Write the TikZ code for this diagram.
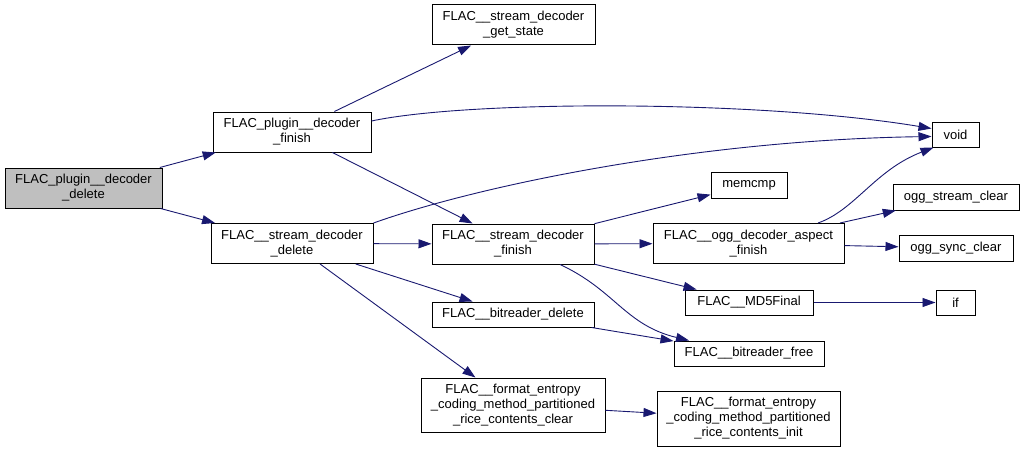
\documentclass[tikz,border=0pt]{standalone}
\usepackage{fontspec}
\setmainfont{Liberation Sans}
\usetikzlibrary{arrows.meta}
\definecolor{edgeblue}{RGB}{25,25,112}
\definecolor{hl}{RGB}{191,191,191}
\begin{document}
\begin{tikzpicture}[x=1pt,y=-1pt,
  fn/.style={draw=black, line width=1pt, fill=white, rectangle, inner sep=0pt, align=center, font=\fontsize{13}{15}\selectfont},
  ed/.style={draw=edgeblue, line width=0.9pt, -{Triangle[length=13pt,width=9pt]}, fill=none}]
\useasboundingbox (0,0) rectangle (1024,452);
\node[fn, fill=hl, minimum width=157pt, minimum height=40pt] (del) at (83.5,188) {FLAC\_plugin\_\_decoder\\\_delete};
\node[fn, minimum width=158pt, minimum height=40pt] (pf) at (292,132) {FLAC\_plugin\_\_decoder\\\_finish};
\node[fn, minimum width=162pt, minimum height=40pt] (sdd) at (292,243.5) {FLAC\_\_stream\_decoder\\\_delete};
\node[fn, minimum width=163pt, minimum height=40pt] (gs) at (513.5,25) {FLAC\_\_stream\_decoder\\\_get\_state};
\node[fn, minimum width=162pt, minimum height=40pt] (sdf) at (513,244) {FLAC\_\_stream\_decoder\\\_finish};
\node[fn, minimum width=191pt, minimum height=40pt] (ogg) at (748.5,243.5) {FLAC\_\_ogg\_decoder\_aspect\\\_finish};
\node[fn, minimum width=128pt, minimum height=25pt] (md5) at (749,302.5) {FLAC\_\_MD5Final};
\node[fn, minimum width=162pt, minimum height=25pt] (brd) at (513,314.5) {FLAC\_\_bitreader\_delete};
\node[fn, minimum width=150pt, minimum height=25pt] (brf) at (749,353.5) {FLAC\_\_bitreader\_free};
\node[fn, minimum width=184pt, minimum height=54pt] (fc) at (513,405) {FLAC\_\_format\_entropy\\\_coding\_method\_partitioned\\\_rice\_contents\_clear};
\node[fn, minimum width=183pt, minimum height=55pt] (fi) at (748.5,418.5) {FLAC\_\_format\_entropy\\\_coding\_method\_partitioned\\\_rice\_contents\_init};
\node[fn, minimum width=47pt, minimum height=25pt] (void) at (955.5,134.5) {void};
\node[fn, minimum width=76pt, minimum height=26pt] (mem) at (749,185) {memcmp};
\node[fn, minimum width=126pt, minimum height=26pt] (osc) at (956,197) {ogg\_stream\_clear};
\node[fn, minimum width=114pt, minimum height=26pt] (osy) at (956,248) {ogg\_sync\_clear};
\node[fn, minimum width=39pt, minimum height=25pt] (if) at (955.5,302.5) {if};

\draw[ed] (del) -- (pf);
\draw[ed] (del) -- (sdd);
\draw[ed] (pf) -- (gs);
\draw[ed] ([yshift=11pt]pf.east) .. controls (470,100) and (760,100) .. ([yshift=6pt]void.west);
\draw[ed] (pf) -- (sdf);
\draw[ed] (sdd.north east) .. controls (480,185) and (700,140) .. ([yshift=-2pt]void.west);
\draw[ed] (sdd) -- (sdf);
\draw[ed] (sdd) -- (brd);
\draw[ed] (sdd) -- (fc);
\draw[ed] (sdf) -- (mem);
\draw[ed] (sdf) -- (ogg);
\draw[ed] (sdf) -- (md5);
\draw[ed] ([xshift=47pt]sdf.south) .. controls (615,290) and (625,325) .. ([xshift=-60pt]brf.north);
\draw[ed] ([xshift=69.5pt]ogg.north) .. controls (855,210) and (875,170) .. ([xshift=2pt]void.south west);
\draw[ed] (ogg) -- (osc);
\draw[ed] (ogg) -- (osy);
\draw[ed] (md5) -- (if);
\draw[ed] (brd) -- (brf);
\draw[ed] (fc) -- (fi);
\end{tikzpicture}
\end{document}
